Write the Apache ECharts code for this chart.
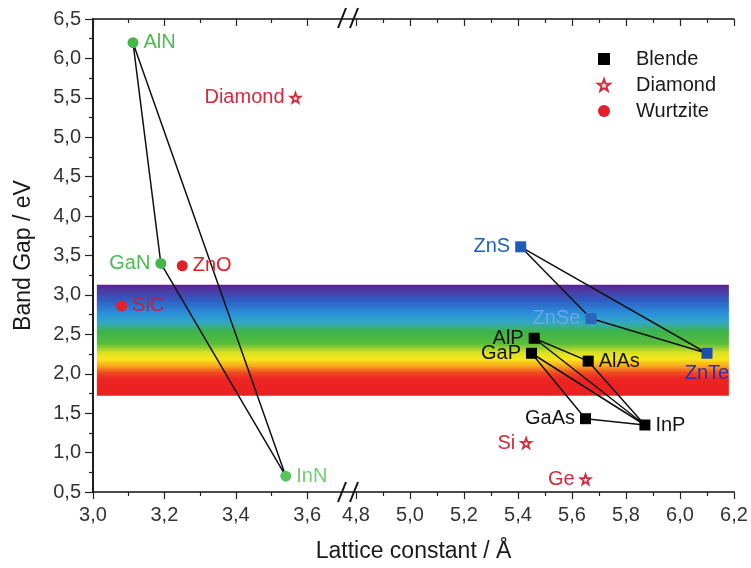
<!DOCTYPE html>
<html>
<head>
<meta charset="utf-8">
<script src="https://cdn.jsdelivr.net/npm/echarts@6/dist/echarts.min.js"></script>
<style>html,body{margin:0;padding:0;background:#fff}#c{width:751px;height:568px}</style>
</head>
<body>
<div id="c"></div>
<script>
// ---------- data ----------
const wurtziteNames = ["AlN", "GaN", "InN", "ZnO", "SiC"];
const wurtziteLattice = [3.112, 3.19, 3.54, 3.25, 3.08];
const wurtziteGap = [6.2, 3.4, 0.7, 3.37, 2.86];

const diamondNames = ["Diamond", "Si", "Ge"];
const diamondLattice = [3.567, 5.43, 5.65];
const diamondGap = [5.5, 1.12, 0.66];

const blendeNames = ["AlP", "GaP", "AlAs", "GaAs", "InP", "ZnS", "ZnSe", "ZnTe"];
const blendeLattice = [5.46, 5.45, 5.66, 5.65, 5.87, 5.41, 5.67, 6.10];
const blendeGap = [2.45, 2.26, 2.16, 1.43, 1.35, 3.61, 2.70, 2.26];

const tieLines = [
  ["AlN", "GaN", "InN", "AlN"],
  ["ZnS", "ZnSe", "ZnTe", "ZnS"],
  ["AlP", "AlAs", "InP", "AlP"],
  ["GaP", "GaAs", "InP", "GaP"]
];

const visibleBand = [1.72, 3.13];           // eV range of the rainbow band
const leftRange = [3.0, 3.6];                // lattice axis, left part
const rightRange = [4.8, 6.2];               // lattice axis, right part
const gapRange = [0.5, 6.5];
const legendNames = ["Blende", "Diamond", "Wurtzite"];

// ---------- styles ----------
const FONT = "'Liberation Sans', Arial, sans-serif";
const GREEN = '#45b649', RED = '#e3202a', CRIMSON = '#d42a3e', BLACK = '#000';
const pointStyle = {
  AlN:  {c: GREEN, lc: '#4dbb52', pos: 'right'},
  GaN:  {c: GREEN, lc: '#4dbb52', pos: 'left'},
  InN:  {c: '#5cc45c', lc: '#74cc74', pos: 'right'},
  ZnO:  {c: RED, lc: RED, pos: 'right'},
  SiC:  {c: RED, lc: '#c21f45', pos: 'right'},
  Diamond: {c: CRIMSON, lc: CRIMSON, pos: 'left'},
  Si:   {c: CRIMSON, lc: CRIMSON, pos: 'left'},
  Ge:   {c: CRIMSON, lc: CRIMSON, pos: 'left'},
  AlP:  {c: BLACK, lc: '#141414', pos: 'left'},
  GaP:  {c: BLACK, lc: '#141414', pos: 'left'},
  AlAs: {c: BLACK, lc: '#141414', pos: 'right'},
  GaAs: {c: BLACK, lc: '#141414', pos: 'left'},
  InP:  {c: BLACK, lc: '#141414', pos: 'right'},
  ZnS:  {c: '#1d5cb8', lc: '#1f5fc0', pos: 'left'},
  ZnSe: {c: '#2a66c0', lc: '#6aa6ea', pos: 'left'},
  ZnTe: {c: '#1d4fa8', lc: '#3a2ba2', pos: 'bottom'}
};
const STAR = 'path://M0,-10L2.35,-3.24L9.51,-3.09L3.8,1.24L5.88,8.09L0,4L-5.88,8.09L-3.8,1.24L-9.51,-3.09L-2.35,-3.24Z';

const coords = {};
[[wurtziteNames, wurtziteLattice, wurtziteGap],
 [diamondNames, diamondLattice, diamondGap],
 [blendeNames, blendeLattice, blendeGap]].forEach(([n, a, g]) => n.forEach((nm, i) => coords[nm] = [a[i], g[i]]));

function isLeft(a) { return a <= leftRange[1] + 0.1; }

function points(names, lat, gap, leftPart) {
  const out = [];
  names.forEach((nm, i) => {
    if (isLeft(lat[i]) !== leftPart) return;
    const s = pointStyle[nm];
    out.push({
      name: nm,
      value: [lat[i], gap[i]],
      itemStyle: {color: s.c, opacity: 1},
      label: {show: true, formatter: nm, position: s.pos, color: s.lc, distance: s.pos === 'bottom' ? 5 : 5}
    });
  });
  return out;
}

const comma = v => v.toFixed(1).replace('.', ',');
const labelFont = {fontFamily: FONT, fontSize: 20, color: '#333'};

const G_LEFT = 93, G_TOP = 19, G_BOTTOM = 76;
const PX_L = 357, PX_R = 270;
const leftW = (leftRange[1] - leftRange[0]) * PX_L;
const rightW = (rightRange[1] - rightRange[0]) * PX_R;
const RIGHT_END = 734;

const xCommon = (range, showLabels, pos) => ({
  type: 'value', min: range[0], max: range[1], interval: 0.2, position: pos,
  axisLine: {show: false},
  axisTick: {show: true, inside: pos === 'top', length: 7, lineStyle: {color: '#222', width: 1.2}},
  minorTick: {show: true, splitNumber: 2, length: 4, lineStyle: {color: '#222', width: 1.2}},
  axisLabel: {show: showLabels, formatter: comma, margin: 13, ...labelFont},
  splitLine: {show: false}, minorSplitLine: {show: false}
});

const series = [];
// rainbow band (visible range) on the full-width frame grid
series.push({
  type: 'line', xAxisIndex: 4, yAxisIndex: 2, data: [], z: 0, silent: true,
  markArea: {
    silent: true,
    itemStyle: {
      color: {type: 'linear', x: 0, y: 0, x2: 0, y2: 1, colorStops: [
        {offset: 0.00, color: '#5b2490'},
        {offset: 0.06, color: '#4c3ca6'},
        {offset: 0.14, color: '#2f5cc2'},
        {offset: 0.26, color: '#2a90da'},
        {offset: 0.34, color: '#33a8c4'},
        {offset: 0.42, color: '#3db34c'},
        {offset: 0.53, color: '#58bd3c'},
        {offset: 0.61, color: '#d8e024'},
        {offset: 0.67, color: '#f7e71c'},
        {offset: 0.73, color: '#f8aa1e'},
        {offset: 0.79, color: '#f04c22'},
        {offset: 0.85, color: '#ec2424'},
        {offset: 1.00, color: '#eb2020'}
      ]}
    },
    data: [[{xAxis: 0.006, yAxis: visibleBand[1]}, {xAxis: 0.992, yAxis: visibleBand[0]}]]
  }
});

// tie lines
tieLines.forEach(path => {
  const left = isLeft(coords[path[0]][0]);
  series.push({
    type: 'line', xAxisIndex: left ? 0 : 2, yAxisIndex: left ? 0 : 1,
    data: path.map(n => coords[n]), symbol: 'none', silent: true, z: 2,
    lineStyle: {color: '#111', width: 1.5}, animation: false
  });
});

const labelBase = {fontFamily: FONT, fontSize: 20};
// Wurtzite
series.push({
  name: 'Wurtzite', type: 'scatter', xAxisIndex: 0, yAxisIndex: 0, z: 3,
  symbol: 'circle', symbolSize: 11, itemStyle: {color: RED, opacity: 1},
  label: labelBase, data: points(wurtziteNames, wurtziteLattice, wurtziteGap, true)
});
// Diamond (two parts of the broken axis)
[true, false].forEach(leftPart => {
  series.push({
    name: 'Diamond', type: 'scatter', xAxisIndex: leftPart ? 0 : 2, yAxisIndex: leftPart ? 0 : 1, z: 3,
    symbol: STAR, symbolSize: 10,
    itemStyle: {color: '#fff', borderColor: CRIMSON, borderWidth: 1.8, opacity: 1},
    label: labelBase,
    data: points(diamondNames, diamondLattice, diamondGap, leftPart).map(d => {
      d.itemStyle = {color: '#fff', borderColor: CRIMSON, borderWidth: 1.8, opacity: 1}; return d;
    })
  });
});
// Blende
series.push({
  name: 'Blende', type: 'scatter', xAxisIndex: 2, yAxisIndex: 1, z: 3,
  symbol: 'rect', symbolSize: 11, itemStyle: {color: BLACK, opacity: 1},
  label: labelBase, data: points(blendeNames, blendeLattice, blendeGap, false)
});

const option = {
  animation: false,
  backgroundColor: '#fff',
  textStyle: {fontFamily: FONT},
  grid: [
    {left: G_LEFT, top: G_TOP, bottom: G_BOTTOM, width: leftW},
    {left: RIGHT_END - rightW, top: G_TOP, bottom: G_BOTTOM, width: rightW},
    {left: G_LEFT, top: G_TOP, bottom: G_BOTTOM, width: RIGHT_END - G_LEFT}
  ],
  xAxis: [
    Object.assign(xCommon(leftRange, true, 'bottom'), {gridIndex: 0}),
    Object.assign(xCommon(leftRange, false, 'top'), {gridIndex: 0}),
    Object.assign(xCommon(rightRange, true, 'bottom'), {gridIndex: 1}),
    Object.assign(xCommon(rightRange, false, 'top'), {gridIndex: 1}),
    {gridIndex: 2, type: 'value', min: 0, max: 1, position: 'bottom',
     axisLine: {show: true, lineStyle: {color: '#111', width: 1.5}},
     axisTick: {show: false}, axisLabel: {show: false}, splitLine: {show: false},
     name: 'Lattice constant / Å', nameLocation: 'middle', nameGap: 48,
     nameTextStyle: {fontFamily: FONT, fontSize: 23, color: '#1a1a1a'}},
    {gridIndex: 2, type: 'value', min: 0, max: 1, position: 'top',
     axisLine: {show: true, lineStyle: {color: '#111', width: 1.5}},
     axisTick: {show: false}, axisLabel: {show: false}, splitLine: {show: false}}
  ],
  yAxis: [
    {gridIndex: 0, type: 'value', min: gapRange[0], max: gapRange[1], interval: 0.5, position: 'left',
     axisLine: {show: true, lineStyle: {color: '#111', width: 1.5}},
     axisTick: {show: true, length: 8, lineStyle: {color: '#222', width: 1.2}},
     minorTick: {show: true, splitNumber: 2, length: 4, lineStyle: {color: '#222', width: 1.2}},
     axisLabel: {formatter: comma, margin: 12, ...labelFont},
     splitLine: {show: false},
     name: 'Band Gap / eV', nameLocation: 'middle', nameGap: 58,
     nameTextStyle: {fontFamily: FONT, fontSize: 23, color: '#1a1a1a'}},
    {gridIndex: 1, type: 'value', min: gapRange[0], max: gapRange[1], show: false},
    {gridIndex: 2, type: 'value', min: gapRange[0], max: gapRange[1], position: 'left', show: false},
    {gridIndex: 2, type: 'value', min: gapRange[0], max: gapRange[1], position: 'right',
     axisLine: {show: true, lineStyle: {color: '#111', width: 1.5}},
     axisTick: {show: false}, axisLabel: {show: false}, splitLine: {show: false}}
  ],
  legend: {
    data: legendNames, orient: 'vertical', left: 592, top: 44,
    itemWidth: 12, itemHeight: 12, itemGap: 6,
    textStyle: {fontFamily: FONT, fontSize: 20, color: '#1a1a1a', padding: [0, 0, 0, 21]}
  },
  graphic: [
    {type: 'line', shape: {x1: 338, y1: 502, x2: 346, y2: 482}, style: {stroke: '#111', lineWidth: 2}, z: 100},
    {type: 'line', shape: {x1: 350, y1: 502, x2: 358, y2: 482}, style: {stroke: '#111', lineWidth: 2}, z: 100},
    {type: 'line', shape: {x1: 338, y1: 28, x2: 346, y2: 8}, style: {stroke: '#111', lineWidth: 2}, z: 100},
    {type: 'line', shape: {x1: 350, y1: 28, x2: 358, y2: 8}, style: {stroke: '#111', lineWidth: 2}, z: 100}
  ],
  series: series
};

const chart = echarts.init(document.getElementById('c'), null, {renderer: 'canvas'});
chart.setOption(option);
</script>
</body>
</html>
